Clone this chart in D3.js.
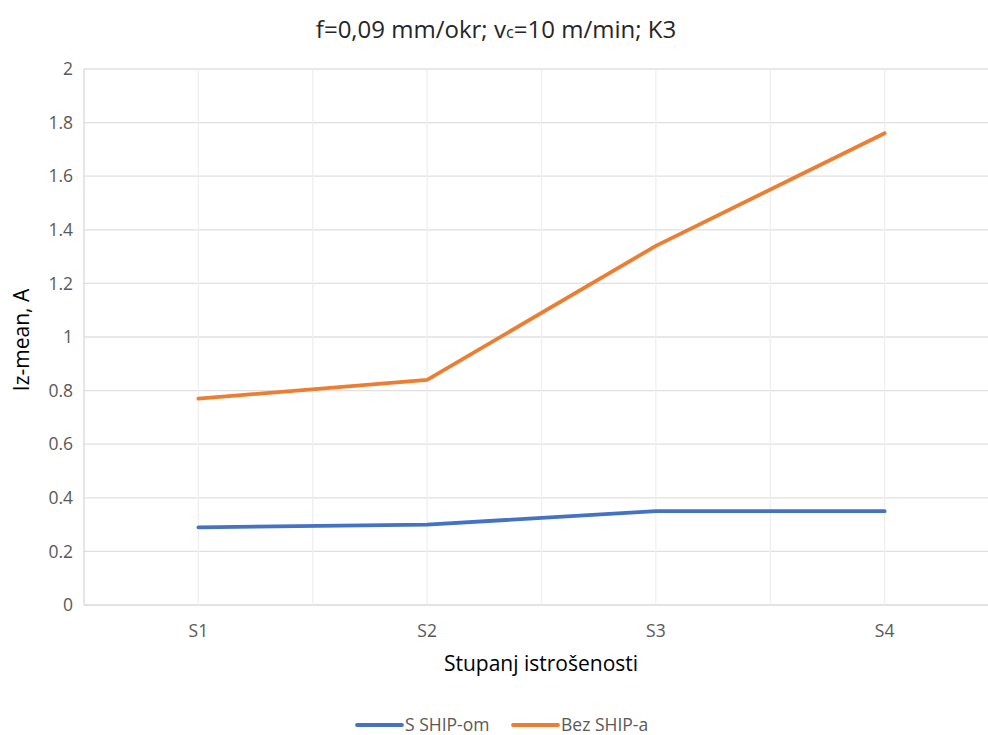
<!DOCTYPE html>
<html><head><meta charset="utf-8">
<script src="https://cdn.jsdelivr.net/npm/d3@7"></script>
<style>body{margin:0;background:#fff}svg{display:block;font-family:"Open Sans",sans-serif}</style>
</head><body>
<svg id="c" width="988" height="735"></svg>
<script>
const categories = ["S1","S2","S3","S4"];
const seriesNames = ["S SHIP-om","Bez SHIP-a"];
const sShip = [0.29,0.30,0.35,0.35];
const bezShip = [0.77,0.84,1.34,1.76];
const yTicks = [0,0.2,0.4,0.6,0.8,1,1.2,1.4,1.6,1.8,2];
const colors = ["#4472C4","#ED7D31"];
const FONT = "'Open Sans',sans-serif";

const svg = d3.select("#c");
const L=84, R=999, T=69, B=605;
const x = d3.scaleBand().domain(categories).range([L,R]);
const y = d3.scaleLinear().domain([0,2]).range([B,T]);
const xc = d => x(d)+x.bandwidth()/2;

// horizontal grid
svg.append("g").selectAll("line").data(yTicks).join("line")
  .attr("x1",L).attr("x2",R).attr("y1",d=>y(d)).attr("y2",d=>y(d))
  .attr("stroke",d=>d===0?"#d9d9d9":"#e0e0e0").attr("stroke-width",1.3);
// vertical grid: band edges and centers
const vlines = [];
categories.forEach(c=>{vlines.push(x(c)); vlines.push(xc(c));});
vlines.push(x(categories[categories.length-1])+x.bandwidth());
svg.append("g").selectAll("line").data(vlines).join("line")
  .attr("x1",d=>d).attr("x2",d=>d).attr("y1",T).attr("y2",B)
  .attr("stroke",(d,i)=>i===0?"#d9d9d9":"#efefef").attr("stroke-width",1.3);

// y axis labels
const yAxis = d3.axisLeft(y).tickValues(yTicks).tickSize(0).tickPadding(11).tickFormat(d=>String(d));
const gy = svg.append("g").attr("transform",`translate(${L},0)`).call(yAxis);
gy.select(".domain").remove();
gy.selectAll("text").attr("font-size",17.5).attr("fill","#595959").style("font-family",FONT);

// x axis labels
const xAxis = d3.axisBottom(x).tickSize(0).tickPadding(20);
const gx = svg.append("g").attr("transform",`translate(0,${B})`).call(xAxis);
gx.select(".domain").remove();
gx.selectAll("text").attr("font-size",17.5).attr("fill","#595959").style("font-family",FONT);

// lines
const line = d3.line().x((d,i)=>xc(categories[i])).y(d=>y(d));
[sShip,bezShip].forEach((s,k)=>{
  svg.append("path").datum(s).attr("d",line).attr("fill","none")
    .attr("stroke",colors[k]).attr("stroke-width",3.8)
    .attr("stroke-linejoin","round").attr("stroke-linecap","round");
});

// title
const title = svg.append("text").attr("x",496).attr("y",38).attr("text-anchor","middle")
  .attr("font-size",24).attr("fill","#262626");
title.append("tspan").text("f=0,09 mm/okr; v");
title.append("tspan").attr("font-size",16.5).text("c");
title.append("tspan").text("=10 m/min; K3");

// axis titles
svg.append("text").attr("transform",`translate(29,340) rotate(-90)`)
  .attr("text-anchor","middle").attr("font-size",21).attr("fill","#000").text("Iz-mean, A");
svg.append("text").attr("x",541).attr("y",671).attr("text-anchor","middle")
  .attr("font-size",21).attr("fill","#000").text("Stupanj istrošenosti");

// legend
const leg = [{x:357},{x:513}];
seriesNames.forEach((n,k)=>{
  const g = svg.append("g").attr("transform",`translate(${leg[k].x},725)`);
  g.append("line").attr("x1",0).attr("x2",45).attr("y1",0).attr("y2",0)
    .attr("stroke",colors[k]).attr("stroke-width",3.8).attr("stroke-linecap","round");
  g.append("text").attr("x",48).attr("y",6).attr("font-size",17.5).attr("fill","#595959").text(n);
});
</script>
</body></html>
